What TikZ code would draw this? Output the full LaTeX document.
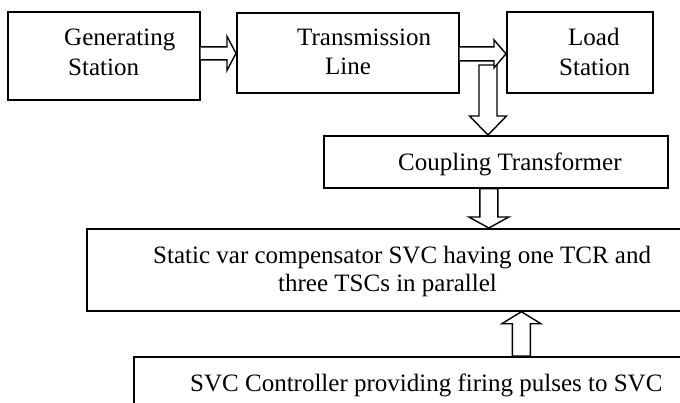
\documentclass[tikz,border=0pt]{standalone}
\usepackage{fontspec}
\setmainfont{Liberation Serif}
\usetikzlibrary{calc}
\tikzset{
  box/.style={draw, line width=1.7pt, inner sep=0pt, anchor=north west},
  lbl/.style={anchor=base west, inner sep=0pt, font=\fontsize{25}{30}\selectfont},
  fat/.style={draw, fill=white, line width=1.4pt, line join=miter},
}
% horizontal hollow arrow: #1 start, #2 end (x used), #3 half shaft, #4 half head, #5 head length
\newcommand\harrow[5]{%
  \draw[fat] let \p1=#1, \p2=#2 in
    (\x1,\y1+#3) -- (\x2-#5,\y1+#3) -- (\x2-#5,\y1+#4) -- (\x2,\y1)
    -- (\x2-#5,\y1-#4) -- (\x2-#5,\y1-#3) -- (\x1,\y1-#3);}
% vertical hollow arrow: #1 start, #2 end (y used), #3 half shaft, #4 half head, #5 signed head length
\newcommand\varrow[5]{%
  \draw[fat] let \p1=#1, \p2=#2 in
    (\x1-#3,\y1) -- (\x1-#3,\y2+#5) -- (\x1-#4,\y2+#5) -- (\x1,\y2)
    -- (\x1+#4,\y2+#5) -- (\x1+#3,\y2+#5) -- (\x1+#3,\y1) -- cycle;}
\begin{document}
\begin{tikzpicture}[x=1pt,y=-1pt]
\useasboundingbox (0,0) rectangle (680,402);
\clip (0,0) rectangle (680,402);

% boxes
\node[box, minimum width=192pt, minimum height=88pt] (gen) at (7,11) {};
\node[box, minimum width=222pt, minimum height=80pt] (trans) at (236,12) {};
\node[box, minimum width=146pt, minimum height=81pt] (load) at (506,11) {};
\node[box, minimum width=344pt, minimum height=52pt] (coup) at (323,135) {};
\node[box, minimum width=614pt, minimum height=82pt] (svc) at (86,228) {};
\node[box, minimum width=600pt, minimum height=80pt] (ctrl) at (133,356) {};

% labels
\node[lbl] (gen1) at (64,45) {Generating};
\node[lbl] (gen2) at (68,75) {Station};
\node[lbl] (tr1) at (297,45) {Transmission};
\node[lbl] (tr2) at (325,74) {Line};
\node[lbl] (ld1) at (568,45) {Load};
\node[lbl] (ld2) at (559,75) {Station};
\node[lbl] (cp1) at (398,170) {Coupling Transformer};
\node[lbl] (sv1) at (153,263) {Static var compensator SVC having one TCR and};
\node[lbl] (sv2) at (278,291) {three TSCs in parallel};
\node[lbl] (ct1) at (190,391) {SVC Controller providing firing pulses to SVC};

% arrows
\coordinate (tap) at (488,65);
\varrow{(tap)}{(coup.north)}{9pt}{18.5pt}{19pt}
\harrow{([yshift=2.5pt]gen.east)}{(trans.west)}{6.5pt}{17pt}{9pt}
\harrow{([yshift=-1pt]trans.east)}{(load.west)}{7pt}{14pt}{12pt}
\varrow{([xshift=-7pt]coup.south)}{(svc.north)}{9pt}{20pt}{11pt}
\varrow{([xshift=87.5pt]ctrl.north)}{(svc.south)}{9pt}{19.5pt}{-12pt}
\end{tikzpicture}
\end{document}
